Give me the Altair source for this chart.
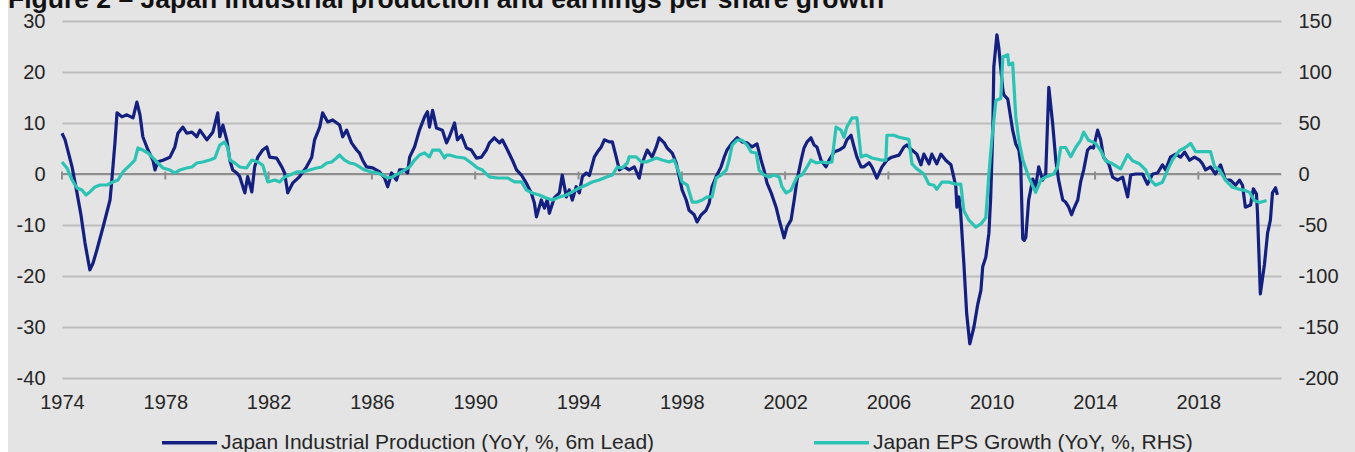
import altair as alt
import pandas as pd

TITLE = "Figure 2 – Japan industrial production and earnings per share growth"
IP_LABEL = "Japan Industrial Production (YoY, %, 6m Lead)"
EPS_LABEL = "Japan EPS Growth (YoY, %, RHS)"

# Japan industrial production, YoY %, shifted 6 months forward (left axis)
ip_year = [
    1974.00, 1974.12, 1974.39, 1974.58, 1974.73, 1974.89, 1975.01, 1975.08, 1975.20, 1975.35,
    1975.59, 1975.86, 1975.93, 1976.05, 1976.13, 1976.32, 1976.51, 1976.75, 1976.90, 1977.02,
    1977.13, 1977.33, 1977.52, 1977.60, 1977.71, 1977.91, 1978.18, 1978.37, 1978.49, 1978.68,
    1978.83, 1979.03, 1979.22, 1979.34, 1979.61, 1979.84, 1980.03, 1980.11, 1980.23, 1980.38,
    1980.50, 1980.61, 1980.77, 1980.88, 1981.08, 1981.19, 1981.35, 1981.46, 1981.58, 1981.77,
    1981.93, 1982.04, 1982.31, 1982.51, 1982.62, 1982.74, 1982.93, 1983.20, 1983.47, 1983.67,
    1983.78, 1983.98, 1984.09, 1984.29, 1984.48, 1984.75, 1984.87, 1985.02, 1985.21, 1985.41,
    1985.52, 1985.64, 1985.79, 1986.03, 1986.30, 1986.49, 1986.61, 1986.76, 1986.95, 1987.07,
    1987.26, 1987.38, 1987.46, 1987.65, 1987.84, 1988.04, 1988.15, 1988.23, 1988.35, 1988.50,
    1988.73, 1988.89, 1989.00, 1989.20, 1989.31, 1989.47, 1989.66, 1989.85, 1990.05, 1990.24,
    1990.43, 1990.55, 1990.74, 1990.94, 1991.05, 1991.25, 1991.44, 1991.60, 1991.79, 1991.98,
    1992.17, 1992.29, 1992.37, 1992.56, 1992.68, 1992.79, 1992.87, 1993.06, 1993.26, 1993.37,
    1993.53, 1993.64, 1993.76, 1993.91, 1994.03, 1994.15, 1994.30, 1994.42, 1994.61, 1994.73,
    1994.88, 1995.00, 1995.19, 1995.31, 1995.46, 1995.58, 1995.77, 1995.96, 1996.16, 1996.35,
    1996.47, 1996.66, 1996.85, 1997.01, 1997.12, 1997.32, 1997.43, 1997.63, 1997.78, 1997.90,
    1998.01, 1998.17, 1998.28, 1998.48, 1998.59, 1998.75, 1998.94, 1999.06, 1999.17, 1999.33,
    1999.52, 1999.64, 1999.75, 1999.95, 2000.14, 2000.33, 2000.53, 2000.72, 2000.91, 2001.07,
    2001.18, 2001.30, 2001.46, 2001.65, 2001.77, 2001.88, 2001.96, 2002.07, 2002.23, 2002.35,
    2002.46, 2002.62, 2002.73, 2002.85, 2003.00, 2003.12, 2003.23, 2003.39, 2003.58, 2003.70,
    2003.89, 2004.09, 2004.28, 2004.39, 2004.55, 2004.67, 2004.78, 2004.94, 2005.05, 2005.25,
    2005.36, 2005.55, 2005.75, 2005.94, 2006.13, 2006.41, 2006.60, 2006.71, 2006.91, 2007.10,
    2007.26, 2007.37, 2007.57, 2007.68, 2007.87, 2008.03, 2008.22, 2008.42, 2008.53, 2008.61,
    2008.65, 2008.73, 2008.80, 2008.92, 2009.03, 2009.15, 2009.31, 2009.46, 2009.58, 2009.65,
    2009.77, 2009.89, 2009.96, 2010.04, 2010.08, 2010.20, 2010.27, 2010.43, 2010.47, 2010.62,
    2010.81, 2010.93, 2011.05, 2011.12, 2011.20, 2011.26, 2011.32, 2011.43, 2011.59, 2011.70,
    2011.82, 2011.97, 2012.09, 2012.21, 2012.36, 2012.48, 2012.59, 2012.75, 2012.86, 2012.98,
    2013.09, 2013.17, 2013.33, 2013.44, 2013.56, 2013.71, 2013.83, 2013.94, 2014.10, 2014.22,
    2014.33, 2014.53, 2014.68, 2014.87, 2015.07, 2015.26, 2015.38, 2015.57, 2015.84, 2016.03,
    2016.23, 2016.42, 2016.61, 2016.73, 2016.92, 2017.12, 2017.31, 2017.47, 2017.66, 2017.85,
    2018.05, 2018.16, 2018.28, 2018.47, 2018.66, 2018.86, 2019.05, 2019.24, 2019.44, 2019.59,
    2019.71, 2019.82, 2020.02, 2020.13, 2020.25, 2020.29, 2020.40, 2020.56, 2020.68, 2020.79,
    2020.87, 2020.99, 2021.06,
]
ip_value = [
    8.0, 6.7, 1.4, -3.7, -7.9, -13.5, -16.9, -18.8, -17.5, -14.9,
    -10.4, -5.1, -1.2, 6.1, 12.0, 11.2, 11.6, 11.0, 14.1, 11.6,
    7.3, 4.7, 2.7, 0.8, 2.4, 2.7, 3.3, 5.3, 8.0, 9.2,
    8.0, 8.2, 7.3, 8.6, 6.7, 8.2, 12.0, 7.3, 9.6, 6.7,
    2.7, 0.8, 0.2, -0.5, -3.7, -0.5, -3.5, 1.4, 3.3, 4.7,
    5.3, 3.3, 3.1, 1.4, 0.2, -3.7, -1.8, -0.5, 1.4, 3.3,
    6.7, 9.2, 12.0, 10.2, 10.6, 9.6, 7.3, 8.6, 6.1, 4.7,
    4.1, 2.7, 1.4, 1.2, 0.4, -0.8, -2.5, 0.2, -1.2, 0.8,
    0.8, 0.2, 3.3, 5.3, 8.6, 11.2, 12.2, 9.2, 12.5, 9.0,
    8.6, 6.1, 7.3, 10.0, 6.7, 7.6, 5.1, 4.7, 3.1, 3.3,
    4.7, 6.1, 7.1, 6.1, 6.7, 4.7, 2.7, 0.8, -0.2, -1.8,
    -3.7, -5.7, -8.4, -5.1, -6.7, -5.0, -7.7, -4.7, -3.7, -0.2,
    -4.5, -3.1, -5.1, -2.5, -3.7, -0.5, 0.2, -0.3, 3.3, 4.3,
    5.3, 6.7, 6.3, 6.3, 3.3, 0.8, 1.4, 0.8, 1.4, -0.8,
    2.2, 4.7, 3.3, 5.3, 7.1, 6.1, 5.1, 4.1, 2.2, -0.5,
    -3.1, -5.1, -7.1, -8.0, -9.4, -8.0, -7.1, -5.7, -2.5, -0.5,
    1.4, 3.3, 4.7, 6.1, 7.1, 6.3, 6.1, 5.3, 5.9, 2.7,
    0.8, -1.8, -3.7, -6.5, -9.0, -11.0, -12.5, -10.4, -9.0, -5.1,
    -1.2, 2.7, 5.1, 6.3, 7.1, 5.7, 5.3, 2.7, 1.4, 2.7,
    4.3, 4.7, 5.3, 6.7, 7.6, 5.3, 3.3, 1.4, 1.4, 2.2,
    1.4, -0.8, 1.4, 2.7, 3.3, 3.7, 5.3, 5.7, 4.7, 3.9,
    1.8, 3.9, 2.0, 3.9, 2.0, 3.9, 2.7, 1.8, -0.6, -2.5,
    -6.5, -4.5, -7.8, -17.5, -27.4, -33.3, -30.0, -25.5, -22.8, -18.2,
    -16.3, -11.6, -4.5, 8.6, 21.0, 27.3, 24.9, 16.5, 15.5, 14.7,
    8.6, 5.9, 4.7, 2.0, -12.7, -13.0, -12.4, -5.1, -1.0, -2.5,
    1.4, -1.2, 0.0, 17.0, 9.8, 2.7, -1.2, -5.1, -5.5, -6.5,
    -8.0, -6.9, -5.1, -1.6, 0.8, 4.7, 5.3, 5.1, 8.6, 6.7,
    3.3, 2.0, -0.6, -1.2, -0.6, -4.5, -0.2, 0.0, 0.0, -2.0,
    0.0, 0.2, 1.8, 0.8, 3.3, 3.9, 3.3, 4.3, 2.7, 3.3,
    2.7, 2.0, 0.8, 1.4, 0.0, 1.8, -1.2, -1.2, -2.2, -1.2,
    -2.2, -6.5, -6.1, -2.9, -3.9, -7.7, -23.5, -17.7, -11.6, -9.0,
    -3.7, -2.7, -4.1,
]

# Japan EPS growth, YoY % (right axis)
eps_year = [
    1974.00, 1974.19, 1974.39, 1974.58, 1974.77, 1974.93, 1975.08, 1975.28, 1975.47, 1975.74,
    1975.97, 1976.17, 1976.36, 1976.63, 1976.82, 1976.94, 1977.13, 1977.33, 1977.52, 1977.71,
    1977.91, 1978.18, 1978.37, 1978.56, 1978.83, 1979.03, 1979.22, 1979.45, 1979.72, 1979.92,
    1980.11, 1980.30, 1980.42, 1980.50, 1980.69, 1980.88, 1981.15, 1981.35, 1981.58, 1981.77,
    1981.97, 1982.24, 1982.43, 1982.62, 1982.82, 1983.09, 1983.32, 1983.59, 1983.86, 1984.05,
    1984.25, 1984.44, 1984.63, 1984.75, 1984.94, 1985.14, 1985.33, 1985.52, 1985.72, 1985.99,
    1986.22, 1986.41, 1986.61, 1986.80, 1987.07, 1987.26, 1987.46, 1987.65, 1987.84, 1988.04,
    1988.23, 1988.35, 1988.62, 1988.81, 1988.89, 1989.00, 1989.27, 1989.58, 1989.85, 1990.09,
    1990.28, 1990.55, 1990.86, 1991.25, 1991.52, 1991.79, 1991.98, 1992.21, 1992.48, 1992.75,
    1992.99, 1993.26, 1993.53, 1993.76, 1994.03, 1994.30, 1994.53, 1994.80, 1995.08, 1995.31,
    1995.50, 1995.69, 1995.89, 1995.96, 1996.23, 1996.43, 1996.62, 1996.82, 1997.01, 1997.24,
    1997.51, 1997.70, 1997.90, 1998.01, 1998.21, 1998.40, 1998.59, 1998.79, 1998.98, 1999.17,
    1999.33, 1999.52, 1999.72, 1999.83, 1999.95, 2000.14, 2000.33, 2000.53, 2000.68, 2000.88,
    2000.99, 2001.18, 2001.38, 2001.57, 2001.77, 2001.88, 2002.04, 2002.23, 2002.35, 2002.46,
    2002.65, 2002.85, 2003.00, 2003.20, 2003.43, 2003.62, 2003.81, 2003.97, 2004.16, 2004.28,
    2004.39, 2004.59, 2004.78, 2004.94, 2005.13, 2005.36, 2005.71, 2005.90, 2005.94, 2006.21,
    2006.41, 2006.79, 2006.91, 2007.10, 2007.37, 2007.57, 2007.76, 2007.87, 2008.07, 2008.34,
    2008.61, 2008.80, 2008.92, 2009.11, 2009.38, 2009.58, 2009.77, 2009.89, 2010.00, 2010.16,
    2010.35, 2010.43, 2010.62, 2010.66, 2010.81, 2010.93, 2011.05, 2011.20, 2011.43, 2011.70,
    2011.90, 2012.09, 2012.40, 2012.55, 2012.67, 2012.86, 2013.06, 2013.25, 2013.44, 2013.56,
    2013.75, 2014.02, 2014.22, 2014.41, 2014.68, 2014.99, 2015.26, 2015.45, 2015.72, 2015.96,
    2016.15, 2016.34, 2016.61, 2016.81, 2017.00, 2017.27, 2017.50, 2017.70, 2017.89, 2018.47,
    2018.63, 2018.82, 2019.05, 2019.32, 2019.59, 2019.79, 2019.98, 2020.17, 2020.37, 2020.64,
]
eps_value = [
    11.8, 5.9, -5.9, -13.7, -15.7, -20.6, -17.6, -12.7, -10.8, -10.8,
    -7.8, -5.9, 2.0, 8.8, 13.7, 25.5, 23.5, 20.6, 15.7, 10.8,
    5.9, 3.9, 1.0, 3.9, 5.9, 6.9, 10.8, 11.8, 13.7, 15.7,
    28.4, 31.4, 25.5, 13.7, 10.8, 6.9, 5.9, 13.7, 11.8, 8.8,
    -7.8, -5.9, -7.8, -2.9, -1.0, 2.0, 2.0, 3.9, 5.9, 6.9,
    10.8, 11.8, 15.7, 18.6, 13.7, 10.8, 9.8, 6.9, 3.9, 2.0,
    1.0, -1.0, -3.9, -2.9, 1.0, 3.9, 6.9, 13.7, 18.6, 20.6,
    16.7, 23.5, 23.5, 15.7, 18.6, 18.6, 16.7, 15.7, 10.8, 5.9,
    3.9, -2.9, -3.9, -3.9, -7.8, -7.8, -15.7, -18.6, -20.6, -23.5,
    -25.5, -22.5, -20.6, -17.6, -13.7, -10.8, -7.8, -5.9, -2.9, -1.0,
    6.9, 5.9, 10.8, 16.7, 16.7, 11.8, 11.8, 13.7, 15.7, 13.7,
    11.8, 13.7, 1.0, -7.8, -10.8, -27.5, -27.5, -25.5, -22.5, -22.5,
    -3.9, -1.0, 3.9, 13.7, 28.4, 33.3, 33.3, 28.4, 21.6, 20.6,
    3.9, -1.0, -2.9, -1.0, -2.9, -12.7, -18.6, -15.7, -8.8, -2.9,
    -1.0, 6.9, 13.7, 10.8, 11.8, 10.8, 11.8, 46.0, 43.0, 36.0,
    46.0, 55.0, 55.0, 16.7, 18.6, 15.7, 13.7, 13.7, 38.0, 38.0,
    36.0, 34.0, 10.0, 5.0, 0.0, -10.0, -11.0, -15.0, -8.0, -8.0,
    -10.0, -10.0, -36.0, -45.0, -52.0, -49.0, -43.0, 0.0, 33.0, 72.0,
    74.0, 115.0, 117.0, 107.0, 109.0, 56.0, 33.0, 14.0, -3.0, -18.0,
    -6.0, -3.0, 0.0, 7.0, 26.0, 26.0, 17.0, 26.0, 33.0, 41.0,
    33.0, 30.0, 23.0, 13.0, 10.0, 5.0, 19.0, 13.0, 10.0, 4.0,
    -6.0, -11.0, -8.0, 4.0, 14.0, 23.0, 26.0, 30.0, 22.0, 22.0,
    7.0, 4.0, -6.0, -13.0, -15.0, -16.0, -18.0, -26.0, -28.0, -26.0,
]

x_ticks = [1974, 1978, 1982, 1986, 1990, 1994, 1998, 2002, 2006, 2010, 2014, 2018]
left_ticks = [-40, -30, -20, -10, 0, 10, 20, 30]
right_ticks = [-200, -150, -100, -50, 0, 50, 100, 150]

NAVY = "#14207f"
TEAL = "#2cc3b4"
BG = "#e4e4e4"
GRID = "#bdbdbd"
ZERO = "#8e8e8e"
TXT = "#262626"
FONT = "Liberation Sans"
HYPHEN = "replace(format(datum.value, 'd'), '\u2212', '-')"

ip_df = pd.DataFrame({"year": ip_year, "value": ip_value, "series": IP_LABEL})
eps_df = pd.DataFrame({"year": eps_year, "value": eps_value, "series": EPS_LABEL})
zero_df = pd.DataFrame({"value": [0]})
tick_df = pd.DataFrame({"year": x_ticks})
title_df = pd.DataFrame({"t": [TITLE]})

W, H = 1219, 357

x_scale = alt.Scale(domain=[1974, 2021.2], nice=False, zero=False)
color_scale = alt.Scale(domain=[IP_LABEL, EPS_LABEL], range=[NAVY, TEAL])
legend = alt.Legend(
    orient="none", legendX=98, legendY=392, direction="horizontal", title=None,
    symbolType="stroke", symbolSize=3025, symbolStrokeWidth=3.5,
    labelFont=FONT, labelFontSize=21, labelColor=TXT, labelLimit=900,
    columnPadding=152, labelOffset=2,
)

x_axis = alt.Axis(values=x_ticks, format="d", grid=False, domain=False, ticks=False,
                  labelFlush=False, labelOverlap=False,
                  labelPadding=14, labelFontSize=20, labelFont=FONT, labelColor=TXT,
                  title=None)
left_axis = alt.Axis(values=left_ticks, grid=True, gridColor=GRID, gridWidth=2,
                     domain=False, ticks=False, labelPadding=17, labelFontSize=20,
                     labelFont=FONT, labelColor=TXT, title=None, labelExpr=HYPHEN,
                     labelFlush=False)
right_axis = alt.Axis(values=right_ticks, orient="right", grid=False, domain=False,
                      ticks=False, labelPadding=17, labelFontSize=20, labelFont=FONT,
                      labelColor=TXT, title=None, labelExpr=HYPHEN, labelFlush=False)

y_left = alt.Scale(domain=[-40, 30], nice=False, zero=False)
y_right = alt.Scale(domain=[-200, 150], nice=False, zero=False)

zero_rule = alt.Chart(zero_df).mark_rule(color=ZERO, strokeWidth=2).encode(
    y=alt.Y("value:Q", scale=y_left, axis=left_axis)
)
tick_marks = alt.Chart(tick_df).mark_rule(color=ZERO, strokeWidth=2).encode(
    x=alt.X("year:Q", scale=x_scale, axis=x_axis),
    y=alt.value(150.5), y2=alt.value(158.5),
)
ip_line = alt.Chart(ip_df).mark_line(strokeWidth=3.2, strokeJoin="round").encode(
    x=alt.X("year:Q", scale=x_scale, axis=x_axis),
    y=alt.Y("value:Q", scale=y_left, axis=left_axis),
    color=alt.Color("series:N", scale=color_scale, legend=legend),
)
title_text = alt.Chart(title_df).mark_text(
    align="left", baseline="alphabetic", font=FONT, fontSize=26.5, fontWeight="bold",
    color="#111111",
).encode(text="t:N", x=alt.value(-54), y=alt.value(-13.5))
left_strip = alt.Chart(title_df).mark_rect(color="white").encode(
    x=alt.value(-62), x2=alt.value(-54), y=alt.value(-21), y2=alt.value(431)
)

left_layer = alt.layer(zero_rule, tick_marks, ip_line, title_text, left_strip)

eps_line = alt.Chart(eps_df).mark_line(strokeWidth=3.2, strokeJoin="round").encode(
    x=alt.X("year:Q", scale=x_scale, axis=x_axis),
    y=alt.Y("value:Q", scale=y_right, axis=right_axis),
    color=alt.Color("series:N", scale=color_scale, legend=legend),
)

chart = (
    alt.layer(left_layer, eps_line)
    .resolve_scale(y="independent")
    .properties(
        width=W, height=H,
        autosize=alt.AutoSizeParams(type="none"),
        padding={"left": 62, "top": 21, "right": 74, "bottom": 74},
        background=BG,
    )
    .configure_view(stroke=None)
)

chart.save("out.html", embed_options={"renderer": "svg", "actions": False})
